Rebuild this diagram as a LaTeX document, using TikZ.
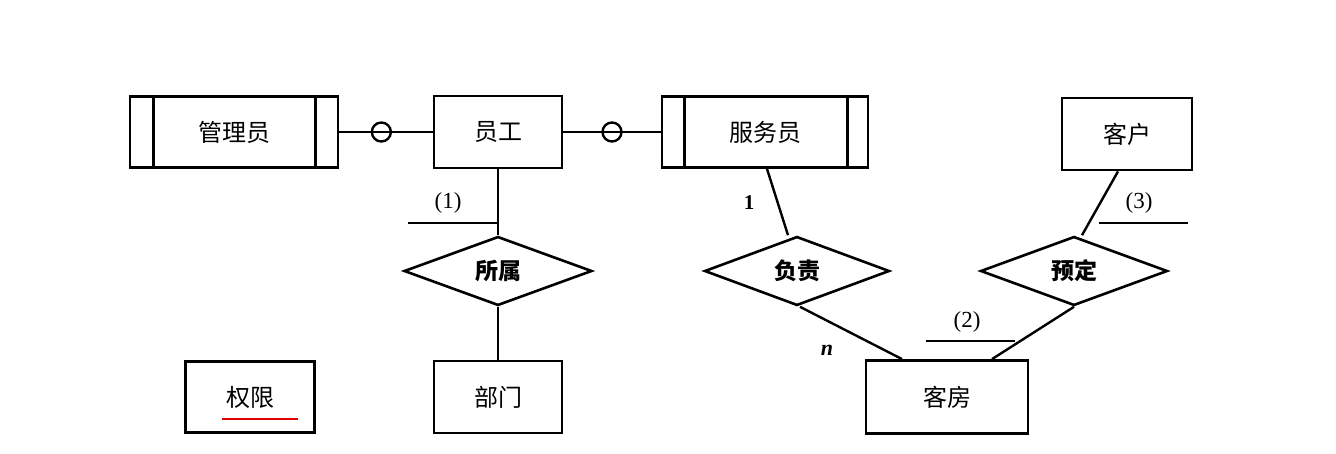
\documentclass[tikz,border=0pt]{standalone}
\usepackage{fontspec}
\setmainfont{Liberation Serif}
\newfontfamily\cjk{Noto Sans CJK SC}
\usetikzlibrary{shapes.geometric}

\begin{document}
\begin{tikzpicture}[x=1pt,y=-1pt,
  ent/.style={draw,line width=2.8pt,minimum width=128pt,minimum height=72pt,font=\cjk\fontsize{24}{27}\selectfont},
  rel/.style={draw,diamond,line width=2.6pt,inner sep=0pt,minimum width=188pt,minimum height=69pt,font=\cjk\bfseries\fontsize{23}{26}\selectfont},
  ln/.style={line width=2.4pt},
  ring/.style={draw,circle,line width=2.4pt,inner sep=0pt,minimum size=19pt},
  card/.style={font=\fontsize{23}{26}\selectfont}]
\useasboundingbox (0,0) rectangle (1336,453);
\node[ent,minimum width=208pt,minimum height=71pt] (glr) at (234,132) {管理员};
\node[ent] (yg) at (498,132) {员工};
\node[ent,minimum width=206pt,minimum height=71pt] (fwy) at (765,132) {服务员};
\node[ent,minimum width=130pt] (kh) at (1127,134) {客户};
\node[ent] (bm) at (498,397) {部门};
\node[ent,minimum width=162pt,minimum height=73pt] (kf) at (947,397) {客房};
\node[ent,minimum width=129pt,minimum height=71pt] (qx) at (250,397) {权限};
\node[rel] (ss) at (498,271) {所属};
\node[rel,minimum width=185pt] (fz) at (797,271) {负责};
\node[rel,minimum width=187pt] (yd) at (1074,271) {预定};

\draw[line width=2.6pt] ([xshift=25pt]glr.north west) -- ([xshift=25pt]glr.south west);
\draw[line width=2.6pt] ([xshift=-24pt]glr.north east) -- ([xshift=-24pt]glr.south east);
\draw[line width=2.6pt] ([xshift=24pt]fwy.north west) -- ([xshift=24pt]fwy.south west);
\draw[line width=2.6pt] ([xshift=-22pt]fwy.north east) -- ([xshift=-22pt]fwy.south east);

\draw[ln] (glr) -- node[ring,pos=0.45] (o1) {} (yg);
\draw[ln] (yg) -- node[ring,pos=0.5] (o2) {} (fwy);
\draw[ln] (yg) -- (ss);
\draw[ln] (ss) -- (bm);
\draw[ln] ([xshift=2pt]fwy.south) -- ([xshift=-9pt]fz.north);
\draw[ln] ([xshift=-9pt]kh.south) -- ([xshift=8pt]yd.north);
\draw[ln] ([xshift=3pt]fz.south) -- ([xshift=-45pt]kf.north);
\draw[ln] (yd.south) -- ([xshift=45pt]kf.north);

\coordinate (c1) at (408,223);
\draw[ln] (c1) -- (c1 -| yg);
\node[card] (t1) at (448,203) {(1)};
\coordinate (c2a) at (926,341);
\coordinate (c2b) at (1015,341);
\draw[ln] (c2a) -- (c2b);
\node[card] (t2) at (967,322) {(2)};
\coordinate (c3a) at (1099,223);
\coordinate (c3b) at (1188,223);
\draw[ln] (c3a) -- (c3b);
\node[card] (t3) at (1139,203) {(3)};
\node[card,font=\bfseries\fontsize{21}{24}\selectfont] (m1) at (749,203) {1};
\node[card,font=\bfseries\itshape\fontsize{22}{24}\selectfont] (mn) at (827,350) {n};

\draw[red!90!black,line width=2.4pt] ([xshift=-28pt,yshift=-22pt]qx.center) -- ([xshift=48pt,yshift=-22pt]qx.center);
\end{tikzpicture}
\end{document}
